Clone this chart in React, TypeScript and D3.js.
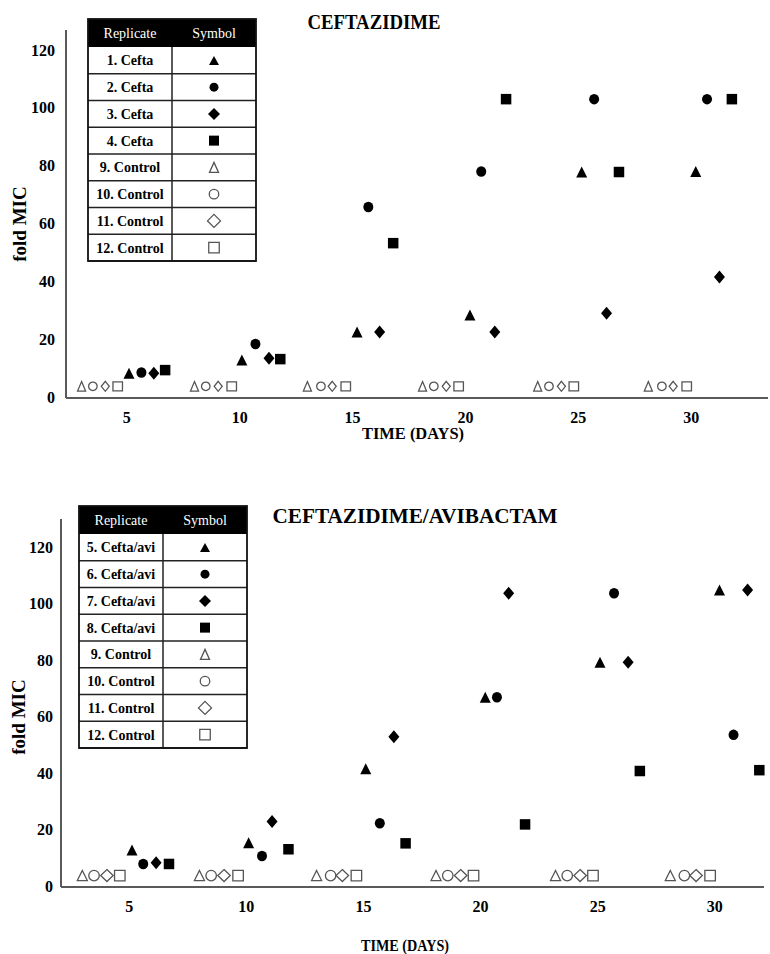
import React from "react";
import * as d3 from "d3";

// ---- data ----
const xTicks = [5, 10, 15, 20, 25, 30];
const yTicks = [0, 20, 40, 60, 80, 100, 120];

const ctzReplicates = ["1. Cefta", "2. Cefta", "3. Cefta", "4. Cefta", "9. Control", "10. Control", "11. Control", "12. Control"];
const cavReplicates = ["5. Cefta/avi", "6. Cefta/avi", "7. Cefta/avi", "8. Cefta/avi", "9. Control", "10. Control", "11. Control", "12. Control"];
const symbolKinds = ["triangle", "circle", "diamond", "square", "triangle", "circle", "diamond", "square"];

// ceftazidime
const ctz1Days = [5.1, 10.1, 15.2, 20.2, 25.15, 30.2];
const ctz1Vals = [8.2, 12.8, 22.5, 28.4, 77.8, 78];
const ctz2Days = [5.65, 10.7, 15.7, 20.7, 25.7, 30.7];
const ctz2Vals = [8.5, 18.3, 65.7, 78, 103, 103];
const ctz3Days = [6.2, 11.3, 16.2, 21.3, 26.25, 31.25];
const ctz3Vals = [8.2, 13.4, 22.5, 22.5, 29, 41.5];
const ctz4Days = [6.7, 11.8, 16.8, 21.8, 26.8, 31.8];
const ctz4Vals = [9.3, 13.1, 53.2, 103, 77.8, 103];

// ceftazidime/avibactam
const cav5Days = [5.12, 10.1, 15.1, 20.2, 25.1, 30.2];
const cav5Vals = [12.7, 15.3, 41.5, 66.8, 79.2, 104.8];
const cav6Days = [5.6, 10.67, 15.7, 20.7, 25.7, 30.8];
const cav6Vals = [7.8, 10.6, 22.2, 66.8, 103.6, 53.5];
const cav7Days = [6.15, 11.1, 16.3, 21.2, 26.3, 31.4];
const cav7Vals = [8.2, 22.8, 52.8, 103.6, 79.2, 104.8];
const cav8Days = [6.7, 11.8, 16.8, 21.9, 26.8, 31.9];
const cav8Vals = [7.8, 13, 15.1, 21.8, 40.7, 41];

// controls 9-12 (same in both panels)
const c9Days = [3.0, 8.0, 13.0, 18.1, 23.2, 28.1];
const c10Days = [3.5, 8.5, 13.6, 18.6, 23.7, 28.7];
const c11Days = [4.05, 9.05, 14.1, 19.15, 24.25, 29.2];
const c12Days = [4.6, 9.65, 14.7, 19.7, 24.8, 29.8];
const controlVals = [3.7, 3.7, 3.7, 3.7, 3.7, 3.7];

const FONT = "'Liberation Serif', 'Times New Roman', serif";

function marker(kind: string, w: number, h: number) {
  const p = d3.path();
  if (kind === "triangle") {
    p.moveTo(0, -h / 2); p.lineTo(w / 2, h / 2); p.lineTo(-w / 2, h / 2); p.closePath();
    return p.toString();
  }
  if (kind === "diamond") {
    p.moveTo(0, -h / 2); p.lineTo(w / 2, 0); p.lineTo(0, h / 2); p.lineTo(-w / 2, 0); p.closePath();
    return p.toString();
  }
  if (kind === "square") {
    p.rect(-w / 2, -h / 2, w, h);
    return p.toString();
  }
  return `M${-w / 2},0A${w / 2},${h / 2} 0 1,0 ${w / 2},0A${w / 2},${h / 2} 0 1,0 ${-w / 2},0Z`;
}

const filledSize: Record<string, [number, number]> = {
  triangle: [11, 11], circle: [10, 10.5], diamond: [11, 13], square: [10.5, 10.5],
};

type Panel = {
  title: string; titleX: number; titleY: number; titleLen: number;
  x0: number; x1: number; d0: number; d1: number; yBase: number; yTop: number;
  axisTop: number; yLabelRight: number; xLabelY: number;
  xTitleX: number; xTitleY: number; xTitleLen: number;
  yTitleX: number; yTitleY: number;
  legX: number; legSplit: number; legR: number; legTop: number;
  replicates: string[];
  series: { days: number[]; vals: number[]; kind: string }[];
  ctrlSize: Record<string, [number, number]>;
};

const panels: Panel[] = [
  {
    title: "CEFTAZIDIME", titleX: 374, titleY: 29, titleLen: 133,
    x0: 66, x1: 768, d0: 2.31, d1: 33.4, yBase: 397, yTop: 50,
    axisTop: 30, yLabelRight: 55, xLabelY: 423,
    xTitleX: 413, xTitleY: 439, xTitleLen: 102,
    yTitleX: 26, yTitleY: 224,
    legX: 88, legSplit: 172, legR: 256, legTop: 19,
    replicates: ctzReplicates,
    series: [
      { days: ctz1Days, vals: ctz1Vals, kind: "triangle" },
      { days: ctz2Days, vals: ctz2Vals, kind: "circle" },
      { days: ctz3Days, vals: ctz3Vals, kind: "diamond" },
      { days: ctz4Days, vals: ctz4Vals, kind: "square" },
    ],
    ctrlSize: { triangle: [8, 9.5], circle: [8.5, 8.5], diamond: [8, 10], square: [9.5, 9] },
  },
  {
    title: "CEFTAZIDIME/AVIBACTAM", titleX: 415, titleY: 523, titleLen: 285,
    x0: 61, x1: 764, d0: 2.09, d1: 32.1, yBase: 886, yTop: 547,
    axisTop: 519, yLabelRight: 53, xLabelY: 912,
    xTitleX: 405, xTitleY: 951, xTitleLen: 88,
    yTitleX: 25, yTitleY: 717,
    legX: 79, legSplit: 163, legR: 247, legTop: 506,
    replicates: cavReplicates,
    series: [
      { days: cav5Days, vals: cav5Vals, kind: "triangle" },
      { days: cav6Days, vals: cav6Vals, kind: "circle" },
      { days: cav7Days, vals: cav7Vals, kind: "diamond" },
      { days: cav8Days, vals: cav8Vals, kind: "square" },
    ],
    ctrlSize: { triangle: [10, 10], circle: [10.5, 10.5], diamond: [12.5, 12], square: [10.5, 10.5] },
  },
];

const controls = [
  { days: c9Days, kind: "triangle" },
  { days: c10Days, kind: "circle" },
  { days: c11Days, kind: "diamond" },
  { days: c12Days, kind: "square" },
];

const ChartPanel = ({ p }: { p: Panel }) => {
  const x = d3.scaleLinear().domain([p.d0, p.d1]).range([p.x0, p.x1]);
  const y = d3.scaleLinear().domain([0, 120]).range([p.yBase, p.yTop]);
  const rowH = 26.75;
  const headH = 28;
  const legBottom = p.legTop + headH + rowH * 8;
  const colA = (p.legX + p.legSplit) / 2;
  const colB = (p.legSplit + p.legR) / 2;

  return (
    <g>
      {/* axes */}
      <line x1={p.x0} x2={p.x0} y1={p.axisTop} y2={p.yBase + 1} stroke="#5a5a5a" strokeWidth={2} />
      <line x1={p.x0} x2={p.x1} y1={p.yBase + 1} y2={p.yBase + 1} stroke="#5a5a5a" strokeWidth={2.2} />
      {yTicks.map((t) => (
        <text key={t} x={p.yLabelRight} y={y(t)} dy="0.35em" textAnchor="end"
          fontFamily={FONT} fontWeight="bold" fontSize={16}>{t}</text>
      ))}
      {xTicks.map((t) => (
        <text key={t} x={x(t)} y={p.xLabelY} textAnchor="middle"
          fontFamily={FONT} fontWeight="bold" fontSize={16}>{t}</text>
      ))}
      <text x={p.xTitleX} y={p.xTitleY} textAnchor="middle" fontFamily={FONT} fontWeight="bold"
        fontSize={16} textLength={p.xTitleLen} lengthAdjust="spacingAndGlyphs">TIME (DAYS)</text>
      <text transform={`translate(${p.yTitleX},${p.yTitleY}) rotate(-90)`} textAnchor="middle"
        fontFamily={FONT} fontWeight="bold" fontSize={19}>fold MIC</text>
      <text x={p.titleX} y={p.titleY} textAnchor="middle" fontFamily={FONT} fontWeight="bold"
        fontSize={20} textLength={p.titleLen} lengthAdjust="spacingAndGlyphs">{p.title}</text>

      {/* controls */}
      {controls.map((c) =>
        c.days.map((d, i) => {
          const [w, h] = p.ctrlSize[c.kind];
          return (
            <path key={c.kind + i} d={marker(c.kind, w, h)}
              transform={`translate(${x(d)},${y(controlVals[i])})`}
              fill="#fff" stroke="#555" strokeWidth={1.3} />
          );
        })
      )}
      {/* treated replicates */}
      {p.series.map((s) =>
        s.days.map((d, i) => {
          const [w, h] = filledSize[s.kind];
          return (
            <path key={s.kind + i} d={marker(s.kind, w, h)}
              transform={`translate(${x(d)},${y(s.vals[i])})`} fill="#000" />
          );
        })
      )}

      {/* legend table */}
      <rect x={p.legX} y={p.legTop} width={p.legR - p.legX} height={headH} fill="#000" />
      <text x={colA} y={p.legTop + 19} textAnchor="middle" fill="#fff" fontFamily={FONT} fontSize={14}>Replicate</text>
      <text x={colB} y={p.legTop + 19} textAnchor="middle" fill="#fff" fontFamily={FONT} fontSize={14}>Symbol</text>
      {p.replicates.map((r, i) => {
        const top = p.legTop + headH + i * rowH;
        const cy = top + rowH / 2;
        const kind = symbolKinds[i];
        const filled = i < 4;
        const size: [number, number] = filled
          ? ({ triangle: [10, 9], circle: [9, 9], diamond: [12, 12], square: [10, 10] } as any)[kind]
          : ({ triangle: [9, 10], circle: [9.5, 9.5], diamond: [13, 13], square: [10.5, 10.5] } as any)[kind];
        return (
          <g key={r}>
            <line x1={p.legX} x2={p.legR} y1={top + rowH} y2={top + rowH} stroke="#222" strokeWidth={1.5} />
            <text x={colA} y={cy + 5} textAnchor="middle" fontFamily={FONT} fontWeight="bold" fontSize={14}>{r}</text>
            <path d={marker(kind, size[0], size[1])} transform={`translate(${colB},${cy})`}
              fill={filled ? "#000" : "#fff"} stroke={filled ? "none" : "#555"} strokeWidth={1.3} />
          </g>
        );
      })}
      <line x1={p.legSplit} x2={p.legSplit} y1={p.legTop + headH} y2={legBottom} stroke="#222" strokeWidth={1.5} />
      <rect x={p.legX} y={p.legTop} width={p.legR - p.legX} height={legBottom - p.legTop}
        fill="none" stroke="#111" strokeWidth={1.8} />
    </g>
  );
};

const App = () => {
  return (
    <svg width={770} height={954} style={{ position: "absolute", left: 0, top: 0, background: "#fff" }}>
      {panels.map((p) => (
        <ChartPanel key={p.title} p={p} />
      ))}
    </svg>
  );
};

export default App;
